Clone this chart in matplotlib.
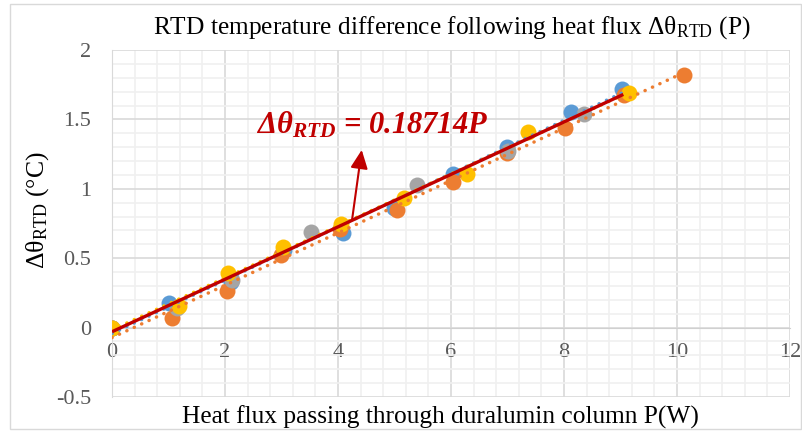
import numpy as np
import matplotlib.pyplot as plt
from matplotlib.patches import Rectangle

plt.rcParams['font.family'] = ['Liberation Serif', 'DejaVu Serif']
plt.rcParams['mathtext.fontset'] = 'custom'
plt.rcParams['mathtext.rm'] = 'Liberation Serif'
plt.rcParams['mathtext.it'] = 'Liberation Serif:italic'
plt.rcParams['mathtext.bf'] = 'Liberation Serif:bold'
plt.rcParams['mathtext.bfit'] = 'Liberation Serif:bold:italic'

# measured series (heat flux P in W, temperature difference in degC)
blueP = [0, 1.01, 2.10, 3.04, 4.09, 5.00, 6.03, 6.99, 8.12, 9.03]
blueT = [0, 0.18, 0.33, 0.56, 0.68, 0.86, 1.11, 1.30, 1.555, 1.717]
orangeP = [0, 1.07, 2.03, 3.00, 4.03, 5.04, 6.03, 7.00, 8.02, 9.06, 10.12]
orangeT = [0, 0.07, 0.264, 0.52, 0.71, 0.85, 1.05, 1.26, 1.436, 1.676, 1.82]
grayP = [0, 1.15, 2.12, 3.52, 5.39, 7.01, 8.35]
grayT = [0, 0.14, 0.34, 0.69, 1.03, 1.275, 1.54]
yellowP = [0, 1.19, 2.05, 3.02, 4.05, 5.17, 6.28, 7.37, 9.15]
yellowT = [0, 0.156, 0.39, 0.58, 0.746, 0.936, 1.11, 1.41, 1.69]

# overall fitted line drawn on top
fitP = [0, 9.05]
fitT = [-0.03, 1.68]

xticks = [0, 2, 4, 6, 8, 10, 12]
yticks = [-0.5, 0, 0.5, 1, 1.5, 2]

series = [(blueP, blueT, '#5B9BD5'), (orangeP, orangeT, '#ED7D31'),
          (grayP, grayT, '#A5A5A5'), (yellowP, yellowT, '#FFC000')]

fig = plt.figure(figsize=(8.03, 4.34), dpi=100)
ax = fig.add_axes([112/803, 37/434, 678/803, 347/434])

# outer chart frame
fig.patches.append(Rectangle((10/803, 5/434), 791/803, 425/434, transform=fig.transFigure,
                             fill=False, edgecolor='#D9D9D9', linewidth=1))

for i, (px, py, col) in enumerate(series):
    ax.plot(px, py, 'o', color=col, markersize=11.5, markeredgewidth=0, zorder=3 + i * 0.1)
    k, b = np.polyfit(px, py, 1)
    xx = np.array([min(px), max(px)])
    ax.plot(xx, k * xx + b, color=col, linewidth=2.5, linestyle=(0, (0.05, 2.3)),
            dash_capstyle='round', zorder=4)

ax.plot(fitP, fitT, color='#C00000', linewidth=2.4, zorder=5, solid_capstyle='butt')

ax.annotate('', xy=(4.42, 1.28), xytext=(4.25, 0.78),
            arrowprops=dict(arrowstyle='-|>,head_length=0.75,head_width=0.35',
                            mutation_scale=15, color='#C00000', lw=1.5,
                            shrinkA=0, shrinkB=0), zorder=6)
ax.text(4.61, 1.46, r'Δθ$_{\mathbfit{RTD}}$ = 0.18714P', color='#C00000', fontsize=22,
        fontweight='bold', style='italic', ha='center', va='center', zorder=6)

ax.set_xlim(0, 12)
ax.set_ylim(-0.5, 2)
ax.set_xticks(xticks)
ax.set_yticks(yticks)
ax.set_yticklabels(['-0.5', '0', '0.5', '1', '1.5', '2'])
ax.set_xticks(np.arange(0, 12.01, 0.4), minor=True)
ax.set_yticks(np.arange(-0.5, 2.01, 0.1), minor=True)
ax.grid(which='major', color='#D9D9D9', linewidth=1.2)
ax.grid(which='minor', color='#F0F0F0', linewidth=1.2)
ax.set_axisbelow(True)
for s in ['top', 'right']:
    ax.spines[s].set_visible(False)
ax.spines['left'].set_color('#D9D9D9')
ax.spines['bottom'].set_position(('data', 0))
ax.spines['bottom'].set_color('#D0D0D0')
ax.tick_params(which='both', length=0)
ax.tick_params(axis='y', labelsize=16, labelcolor='#595959', pad=15)
ax.tick_params(axis='x', labelsize=16, labelcolor='#595959', pad=11)

fig.text(452/803, 1 - 28/434, r'RTD temperature difference following heat flux Δθ$_{\mathrm{RTD}}$ (P)',
         fontsize=18.3, ha='center', va='center')
fig.text(440/803, 1 - 417/434, 'Heat flux passing through duralumin column P(W)',
         fontsize=18.3, ha='center', va='center')
fig.text(38/803, 1 - 210/434, r'Δθ$_{\mathrm{RTD}}$ (°C)', fontsize=18.5,
         ha='center', va='center', rotation=90)

fig.savefig('out.png', dpi=100)
